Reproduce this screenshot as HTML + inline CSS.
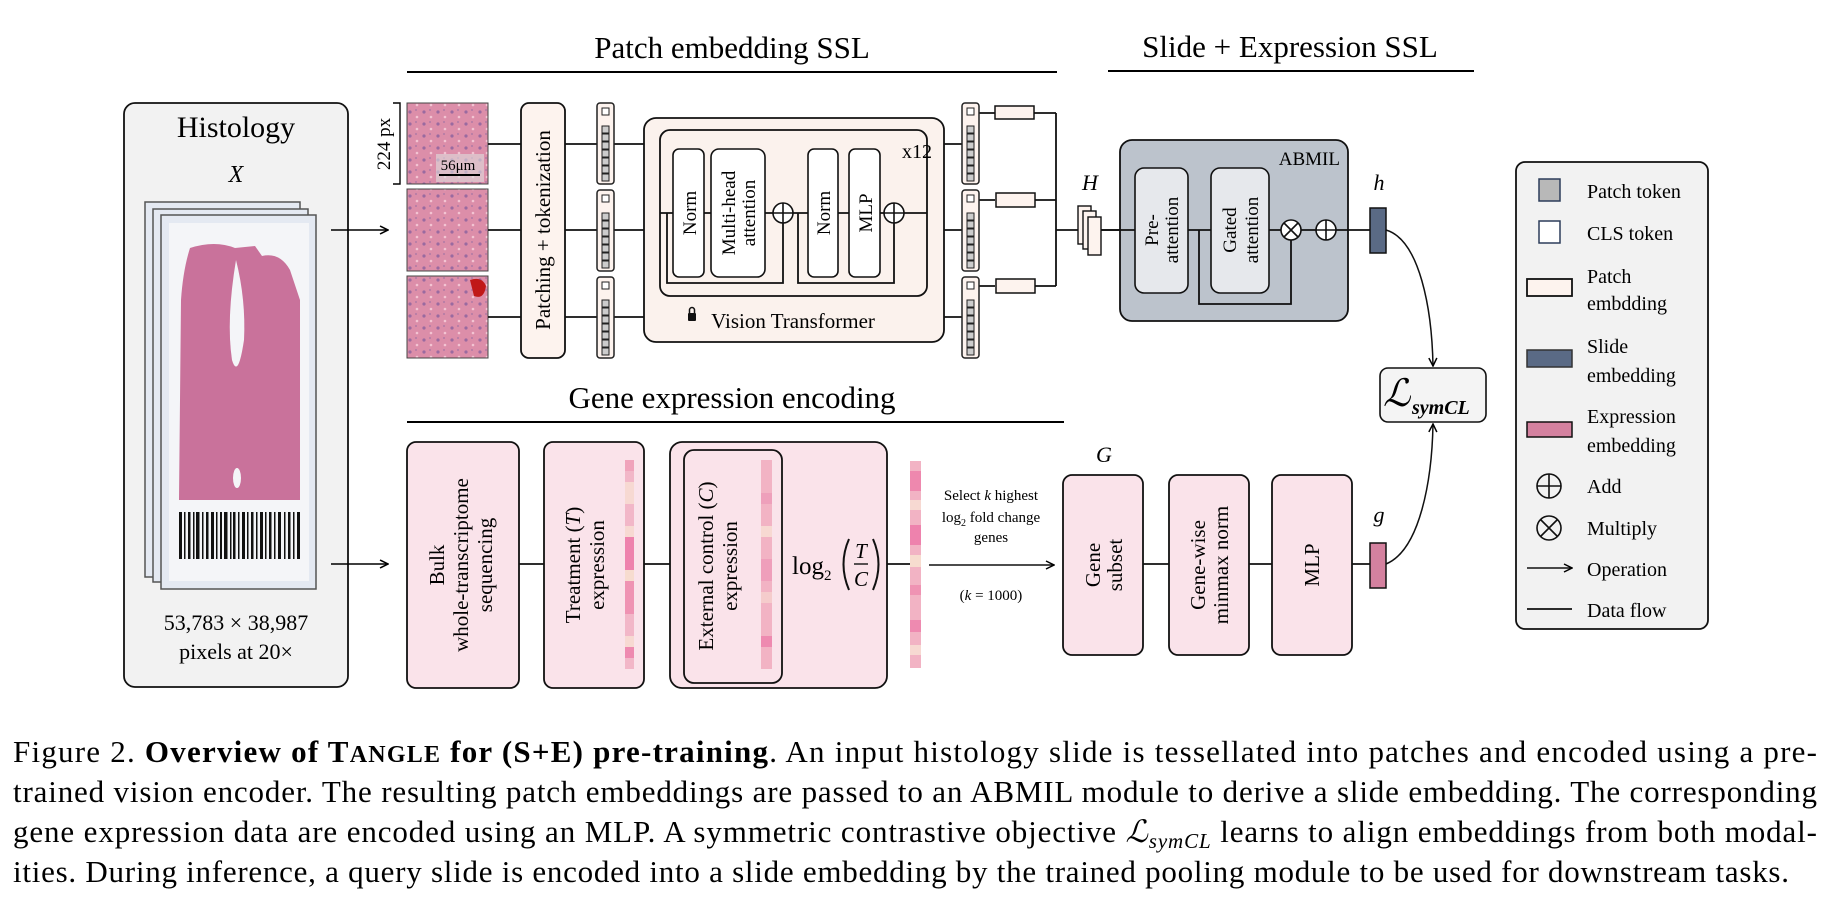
<!DOCTYPE html>
<html><head><meta charset="utf-8"><style>
html,body{margin:0;padding:0;background:#fff;}
svg{display:block;font-family:"Liberation Serif",serif;}
</style></head><body>
<svg width="1836" height="906" viewBox="0 0 1836 906" xmlns="http://www.w3.org/2000/svg">
<defs>
<marker id="ar" markerWidth="10" markerHeight="10" refX="9" refY="5" orient="auto" markerUnits="userSpaceOnUse"><path d="M1,1 L9,5 L1,9" fill="none" stroke="#000" stroke-width="1.5"/></marker>
<g id="tok">
<rect x="0" y="0" width="17" height="81" rx="3" fill="#fdf3ee" stroke="#222" stroke-width="1.5"/>
<rect x="5" y="5" width="7" height="7" fill="#fff" stroke="#222" stroke-width="1"/>
<rect x="5" y="23" width="7" height="7" fill="#ccc" stroke="#222" stroke-width="1"/>
<rect x="5" y="31" width="7" height="7" fill="#ccc" stroke="#222" stroke-width="1"/>
<rect x="5" y="39" width="7" height="7" fill="#ccc" stroke="#222" stroke-width="1"/>
<rect x="5" y="47" width="7" height="7" fill="#ccc" stroke="#222" stroke-width="1"/>
<rect x="5" y="55" width="7" height="7" fill="#ccc" stroke="#222" stroke-width="1"/>
<rect x="5" y="63" width="7" height="7" fill="#ccc" stroke="#222" stroke-width="1"/>
<rect x="5" y="71" width="7" height="7" fill="#ccc" stroke="#222" stroke-width="1"/>
</g>
<pattern id="cells" width="14" height="12" patternUnits="userSpaceOnUse">
<rect width="14" height="12" fill="#dc8ea9"/><circle cx="4" cy="4" r="1.6" fill="#9a6aa0"/><circle cx="11" cy="9" r="1.3" fill="#f3c4d2"/><circle cx="10" cy="2" r="1" fill="#b07aa6"/>
</pattern>
</defs>

<!-- titles -->
<text x="732" y="58" font-size="31" text-anchor="middle">Patch embedding SSL</text>
<line x1="407" y1="72" x2="1057" y2="72" stroke="#000" stroke-width="2"/>
<text x="1290" y="57" font-size="31" text-anchor="middle">Slide + Expression SSL</text>
<line x1="1108" y1="71" x2="1474" y2="71" stroke="#000" stroke-width="2"/>
<text x="732" y="408" font-size="31" text-anchor="middle">Gene expression encoding</text>
<line x1="407" y1="422" x2="1064" y2="422" stroke="#000" stroke-width="2"/>

<!-- histology -->
<rect x="124" y="103" width="224" height="584" rx="11" fill="#f2f2f2" stroke="#111" stroke-width="1.8"/>
<text x="236" y="137" font-size="30" text-anchor="middle">Histology</text>
<text x="236" y="182" font-size="24" font-style="italic" text-anchor="middle">X</text>
<rect x="145" y="202" width="155" height="375" fill="#e4e9f2" stroke="#555" stroke-width="1.5"/>
<rect x="153" y="209" width="155" height="373" fill="#e4e9f2" stroke="#555" stroke-width="1.5"/>
<rect x="161" y="215" width="155" height="374" fill="#e4e9f2" stroke="#555" stroke-width="1.5"/>
<rect x="169" y="223" width="140" height="358" fill="#f4f5f8"/>
<path d="M190,248 Q215,240 235,248 L255,246 L262,256 Q280,252 290,270 L300,300 L300,500 L179,500 L181,300 Q183,270 190,248 Z" fill="#c9729b"/>
<path d="M236,260 Q246,300 244,340 Q238,380 232,360 Q226,320 236,260 Z" fill="#f4f5f8"/>
<ellipse cx="237" cy="478" rx="4" ry="10" fill="#f4f5f8"/>
<g fill="#111">
<rect x="179" y="512" width="3" height="47"/><rect x="184" y="512" width="1.5" height="47"/><rect x="188" y="512" width="2.5" height="47"/><rect x="193" y="512" width="1.5" height="47"/><rect x="196" y="512" width="3.5" height="47"/><rect x="202" y="512" width="1.5" height="47"/><rect x="206" y="512" width="2.5" height="47"/><rect x="211" y="512" width="3" height="47"/><rect x="216" y="512" width="1.5" height="47"/><rect x="220" y="512" width="2" height="47"/><rect x="224" y="512" width="3.5" height="47"/><rect x="230" y="512" width="1.5" height="47"/><rect x="233" y="512" width="2.5" height="47"/><rect x="238" y="512" width="1.5" height="47"/><rect x="242" y="512" width="3" height="47"/><rect x="247" y="512" width="1.5" height="47"/><rect x="251" y="512" width="2.5" height="47"/><rect x="256" y="512" width="1.5" height="47"/><rect x="260" y="512" width="3" height="47"/><rect x="265" y="512" width="1.5" height="47"/><rect x="269" y="512" width="2.5" height="47"/><rect x="274" y="512" width="1.5" height="47"/><rect x="278" y="512" width="3" height="47"/><rect x="284" y="512" width="1.5" height="47"/><rect x="288" y="512" width="2.5" height="47"/><rect x="293" y="512" width="1.5" height="47"/><rect x="297" y="512" width="3" height="47"/>
</g>
<text x="236" y="630" font-size="22" text-anchor="middle">53,783 × 38,987</text>
<text x="236" y="659" font-size="22" text-anchor="middle">pixels at 20×</text>
<line x1="331" y1="230" x2="388" y2="230" stroke="#000" stroke-width="1.6" marker-end="url(#ar)"/>
<line x1="331" y1="564" x2="388" y2="564" stroke="#000" stroke-width="1.6" marker-end="url(#ar)"/>

<!-- patches -->
<rect x="407" y="103" width="81" height="81" fill="url(#cells)" stroke="#444"/>
<rect x="407" y="189" width="81" height="82" fill="url(#cells)" stroke="#444"/>
<rect x="407" y="276" width="81" height="82" fill="url(#cells)" stroke="#444"/>
<path d="M470,280 Q482,276 486,286 Q484,300 474,296 Z" fill="#c01818"/>
<rect x="436" y="154" width="48" height="28" fill="#ddd" opacity="0.6"/>
<text x="458" y="170" font-size="15" text-anchor="middle">56μm</text>
<line x1="439" y1="175" x2="480" y2="175" stroke="#000" stroke-width="2"/>
<path d="M393,103 H400 V184 H393" fill="none" stroke="#000" stroke-width="1.4"/>
<text transform="translate(390,144) rotate(-90)" font-size="19" text-anchor="middle">224 px</text>

<g stroke="#111" stroke-width="1.8">
<line x1="488" y1="144" x2="521" y2="144"/><line x1="488" y1="230" x2="521" y2="230"/><line x1="488" y1="317" x2="521" y2="317"/>
<line x1="565" y1="144" x2="597" y2="144"/><line x1="565" y1="230" x2="597" y2="230"/><line x1="565" y1="317" x2="597" y2="317"/>
<line x1="614" y1="144" x2="644" y2="144"/><line x1="614" y1="230" x2="644" y2="230"/><line x1="614" y1="317" x2="644" y2="317"/>
</g>
<rect x="521" y="103" width="44" height="255" rx="8" fill="#fdf3ee" stroke="#111" stroke-width="1.8"/>
<text transform="translate(550,230) rotate(-90)" font-size="21" text-anchor="middle">Patching + tokenization</text>
<use href="#tok" x="597" y="103"/><use href="#tok" x="597" y="190"/><use href="#tok" x="597" y="277"/>

<!-- ViT -->
<rect x="644" y="118" width="300" height="224" rx="12" fill="#fbf2ed" stroke="#111" stroke-width="1.8"/>
<rect x="660" y="130" width="267" height="166" rx="10" fill="#fbf2ed" stroke="#111" stroke-width="1.8"/>
<g stroke="#111" stroke-width="1.8" fill="none">
<line x1="660" y1="213" x2="927" y2="213"/>
<path d="M667,213 V283 H783 V223"/>
<path d="M798,213 V283 H894 V223"/>
</g>
<rect x="673" y="149" width="31" height="128" rx="6" fill="#fff" stroke="#111" stroke-width="1.6"/>
<rect x="711" y="149" width="54" height="128" rx="8" fill="#fff" stroke="#111" stroke-width="1.6"/>
<rect x="808" y="149" width="30" height="128" rx="6" fill="#fff" stroke="#111" stroke-width="1.6"/>
<rect x="849" y="149" width="31" height="128" rx="6" fill="#fff" stroke="#111" stroke-width="1.6"/>
<text transform="translate(696,213) rotate(-90)" font-size="19" text-anchor="middle">Norm</text>
<text transform="translate(735,213) rotate(-90)" font-size="19" text-anchor="middle">Multi-head</text>
<text transform="translate(755,213) rotate(-90)" font-size="19" text-anchor="middle">attention</text>
<text transform="translate(830,213) rotate(-90)" font-size="19" text-anchor="middle">Norm</text>
<text transform="translate(872,213) rotate(-90)" font-size="19" text-anchor="middle">MLP</text>
<g fill="#fff" stroke="#111" stroke-width="1.6">
<circle cx="783" cy="213" r="10"/><circle cx="894" cy="213" r="10"/>
</g>
<path d="M773,213 H793 M783,203 V223 M884,213 H904 M894,203 V223" stroke="#111" stroke-width="1.6"/>
<text x="917" y="158" font-size="20" text-anchor="middle">x12</text>
<rect x="688" y="313" width="8" height="8" rx="1" fill="#111"/><path d="M689.5,313 V310 a2.5,2.5 0 0 1 5,0 V313" fill="none" stroke="#111" stroke-width="1.5"/>
<text x="793" y="328" font-size="21" text-anchor="middle">Vision Transformer</text>

<g stroke="#111" stroke-width="1.8">
<line x1="944" y1="144" x2="964" y2="144"/><line x1="944" y1="230" x2="964" y2="230"/><line x1="944" y1="317" x2="964" y2="317"/>
<line x1="975" y1="113" x2="995" y2="113"/><line x1="975" y1="200" x2="995" y2="200"/><line x1="975" y1="286" x2="995" y2="286"/>
<line x1="1034" y1="113" x2="1056" y2="113"/><line x1="1034" y1="200" x2="1056" y2="200"/><line x1="1034" y1="286" x2="1056" y2="286"/>
<line x1="1056" y1="113" x2="1056" y2="286"/>
<line x1="1056" y1="230" x2="1120" y2="230"/>
</g>
<use href="#tok" x="962" y="103"/><use href="#tok" x="962" y="190"/><use href="#tok" x="962" y="277"/>
<rect x="995" y="106" width="39" height="13" fill="#fdf3ee" stroke="#111" stroke-width="1.5"/>
<rect x="996" y="193" width="39" height="14" fill="#fdf3ee" stroke="#111" stroke-width="1.5"/>
<rect x="996" y="279" width="39" height="14" fill="#fdf3ee" stroke="#111" stroke-width="1.5"/>
<text x="1090" y="190" font-size="22" font-style="italic" text-anchor="middle">H</text>
<rect x="1078" y="206" width="13" height="38" fill="#fdf3ee" stroke="#111" stroke-width="1.4"/>
<rect x="1083" y="211" width="13" height="38" fill="#fdf3ee" stroke="#111" stroke-width="1.4"/>
<rect x="1088" y="217" width="13" height="38" fill="#fdf3ee" stroke="#111" stroke-width="1.4"/>

<!-- ABMIL -->
<rect x="1120" y="140" width="228" height="181" rx="12" fill="#bcc3cc" stroke="#111" stroke-width="1.8"/>
<text x="1340" y="165" font-size="19" text-anchor="end">ABMIL</text>
<g stroke="#111" stroke-width="1.8" fill="none">
<line x1="1101" y1="230" x2="1370" y2="230"/>
<path d="M1199,230 V304 H1291 V240"/>
</g>
<rect x="1135" y="168" width="53" height="125" rx="9" fill="#e6e8ec" stroke="#111" stroke-width="1.6"/>
<rect x="1211" y="168" width="58" height="125" rx="9" fill="#e6e8ec" stroke="#111" stroke-width="1.6"/>
<text transform="translate(1158,230) rotate(-90)" font-size="19" text-anchor="middle">Pre-</text>
<text transform="translate(1178,230) rotate(-90)" font-size="19" text-anchor="middle">attention</text>
<text transform="translate(1236,230) rotate(-90)" font-size="19" text-anchor="middle">Gated</text>
<text transform="translate(1258,230) rotate(-90)" font-size="19" text-anchor="middle">attention</text>
<circle cx="1291" cy="230" r="10" fill="#fff" stroke="#111" stroke-width="1.6"/>
<path d="M1284,223 L1298,237 M1298,223 L1284,237" stroke="#111" stroke-width="1.6"/>
<circle cx="1326" cy="230" r="10" fill="#fff" stroke="#111" stroke-width="1.6"/>
<path d="M1316,230 H1336 M1326,220 V240" stroke="#111" stroke-width="1.6"/>
<text x="1379" y="190" font-size="22" font-style="italic" text-anchor="middle">h</text>
<rect x="1370" y="208" width="16" height="45" fill="#5a6a85" stroke="#111" stroke-width="1.5"/>
<path d="M1386,230 C1420,240 1432,310 1433,366" fill="none" stroke="#111" stroke-width="1.5" marker-end="url(#ar)"/>

<rect x="1380" y="368" width="106" height="54" rx="8" fill="#f4f4f4" stroke="#111" stroke-width="1.6"/>
<text x="1383" y="406" font-size="38" font-style="italic">ℒ</text>
<text x="1412" y="414" font-size="20" font-style="italic" font-weight="bold">symCL</text>

<!-- bottom pipeline -->
<g stroke="#111" stroke-width="1.8">
<line x1="519" y1="564" x2="544" y2="564"/><line x1="644" y1="564" x2="670" y2="564"/><line x1="887" y1="564" x2="910" y2="564"/>
<line x1="1143" y1="564" x2="1169" y2="564"/><line x1="1249" y1="564" x2="1272" y2="564"/><line x1="1352" y1="564" x2="1370" y2="564"/>
</g>
<rect x="407" y="442" width="112" height="246" rx="9" fill="#fae3ea" stroke="#111" stroke-width="1.8"/>
<text transform="translate(444,565) rotate(-90)" font-size="21" text-anchor="middle">Bulk</text>
<text transform="translate(468,565) rotate(-90)" font-size="21" text-anchor="middle">whole-transcriptome</text>
<text transform="translate(492,565) rotate(-90)" font-size="21" text-anchor="middle">sequencing</text>
<rect x="544" y="442" width="100" height="246" rx="9" fill="#fae3ea" stroke="#111" stroke-width="1.8"/>
<text transform="translate(580,565) rotate(-90)" font-size="21" text-anchor="middle">Treatment (<tspan font-style="italic">T</tspan>)</text>
<text transform="translate(604,565) rotate(-90)" font-size="21" text-anchor="middle">expression</text>
<g>
<rect x="625" y="460" width="9" height="209" fill="#f2b7c8"/>
<rect x="625" y="460" width="9" height="11" fill="#f0a3bb"/><rect x="625" y="482" width="9" height="22" fill="#f7d9d2"/><rect x="625" y="526" width="9" height="11" fill="#f7d9d2"/><rect x="625" y="537" width="9" height="33" fill="#ee82ad"/><rect x="625" y="570" width="9" height="11" fill="#f7dccf"/><rect x="625" y="581" width="9" height="33" fill="#ef93b3"/><rect x="625" y="636" width="9" height="11" fill="#f7d9d2"/><rect x="625" y="647" width="9" height="11" fill="#ee8ab0"/>
</g>
<rect x="670" y="442" width="217" height="246" rx="12" fill="#fae3ea" stroke="#111" stroke-width="1.8"/>
<rect x="684" y="450" width="98" height="233" rx="10" fill="#fae3ea" stroke="#111" stroke-width="1.8"/>
<text transform="translate(713,566) rotate(-90)" font-size="21" text-anchor="middle">External control (<tspan font-style="italic">C</tspan>)</text>
<text transform="translate(737,566) rotate(-90)" font-size="21" text-anchor="middle">expression</text>
<g>
<rect x="761" y="460" width="11" height="209" fill="#f2b3c4"/>
<rect x="761" y="493" width="11" height="11" fill="#eea0bb"/><rect x="761" y="526" width="11" height="11" fill="#f7d9d2"/><rect x="761" y="559" width="11" height="22" fill="#ef9fbb"/><rect x="761" y="592" width="11" height="11" fill="#f5cccc"/><rect x="761" y="636" width="11" height="11" fill="#ee8ab0"/>
</g>
<text x="792" y="574" font-size="25">log<tspan font-size="15" dy="6">2</tspan></text>
<path d="M849,539 Q838,564 849,590" fill="none" stroke="#111" stroke-width="2"/>
<path d="M873,539 Q884,564 873,590" fill="none" stroke="#111" stroke-width="2"/>
<text x="861" y="558" font-size="21" font-style="italic" text-anchor="middle">T</text>
<line x1="854" y1="564" x2="868" y2="564" stroke="#111" stroke-width="1.4"/>
<text x="861" y="586" font-size="21" font-style="italic" text-anchor="middle">C</text>
<g>
<rect x="910" y="461" width="11" height="207" fill="#f2b3c4"/>
<rect x="910" y="471" width="11" height="20" fill="#ee88ae"/><rect x="910" y="500" width="11" height="10" fill="#f7d9d2"/><rect x="910" y="525" width="11" height="20" fill="#ee82ad"/><rect x="910" y="555" width="11" height="12" fill="#f7dccf"/><rect x="910" y="585" width="11" height="10" fill="#ef93b3"/><rect x="910" y="620" width="11" height="12" fill="#ee8ab0"/><rect x="910" y="645" width="11" height="10" fill="#f7d9d2"/>
</g>
<text x="991" y="500" font-size="15" text-anchor="middle">Select <tspan font-style="italic">k</tspan> highest</text>
<text x="991" y="522" font-size="15" text-anchor="middle">log<tspan font-size="10" dy="4">2</tspan><tspan dy="-4"> fold change</tspan></text>
<text x="991" y="542" font-size="15" text-anchor="middle">genes</text>
<line x1="929" y1="565" x2="1054" y2="565" stroke="#111" stroke-width="1.6" marker-end="url(#ar)"/>
<text x="991" y="600" font-size="15" text-anchor="middle">(<tspan font-style="italic">k</tspan> = 1000)</text>
<text x="1104" y="462" font-size="22" font-style="italic" text-anchor="middle">G</text>
<rect x="1063" y="475" width="80" height="180" rx="9" fill="#fae3ea" stroke="#111" stroke-width="1.8"/>
<text transform="translate(1100,565) rotate(-90)" font-size="21" text-anchor="middle">Gene</text>
<text transform="translate(1122,565) rotate(-90)" font-size="21" text-anchor="middle">subset</text>
<rect x="1169" y="475" width="80" height="180" rx="9" fill="#fae3ea" stroke="#111" stroke-width="1.8"/>
<text transform="translate(1205,565) rotate(-90)" font-size="21" text-anchor="middle">Gene-wise</text>
<text transform="translate(1228,565) rotate(-90)" font-size="21" text-anchor="middle">minmax norm</text>
<rect x="1272" y="475" width="80" height="180" rx="9" fill="#fae3ea" stroke="#111" stroke-width="1.8"/>
<text transform="translate(1319,565) rotate(-90)" font-size="21" text-anchor="middle">MLP</text>
<text x="1379" y="522" font-size="22" font-style="italic" text-anchor="middle">g</text>
<rect x="1370" y="543" width="16" height="45" fill="#d4819f" stroke="#111" stroke-width="1.5"/>
<path d="M1386,564 C1420,550 1432,480 1433,424" fill="none" stroke="#111" stroke-width="1.5" marker-end="url(#ar)"/>

<!-- legend -->
<rect x="1516" y="162" width="192" height="467" rx="9" fill="#f2f2f2" stroke="#111" stroke-width="1.8"/>
<g font-size="20">
<rect x="1539" y="179" width="21" height="22" fill="#b8b8b8" stroke="#2c3c5a" stroke-width="1.5"/>
<text x="1587" y="198">Patch token</text>
<rect x="1539" y="221" width="21" height="22" fill="#fff" stroke="#2c3c5a" stroke-width="1.5"/>
<text x="1587" y="240">CLS token</text>
<rect x="1527" y="279" width="45" height="17" fill="#fdf3ee" stroke="#111" stroke-width="1.8"/>
<text x="1587" y="283">Patch</text><text x="1587" y="310">embdding</text>
<rect x="1527" y="350" width="45" height="17" fill="#5a6a85" stroke="#333" stroke-width="1.5"/>
<text x="1587" y="353">Slide</text><text x="1587" y="382">embedding</text>
<rect x="1527" y="422" width="45" height="15" fill="#d4819f" stroke="#111" stroke-width="1.5"/>
<text x="1587" y="423">Expression</text><text x="1587" y="452">embedding</text>
<circle cx="1549" cy="486" r="12" fill="none" stroke="#111" stroke-width="1.6"/><path d="M1537,486 H1561 M1549,474 V498" stroke="#111" stroke-width="1.6"/>
<text x="1587" y="493">Add</text>
<circle cx="1549" cy="528" r="12" fill="none" stroke="#111" stroke-width="1.6"/><path d="M1541,520 L1557,536 M1557,520 L1541,536" stroke="#111" stroke-width="1.6"/>
<text x="1587" y="535">Multiply</text>
<line x1="1527" y1="568" x2="1572" y2="568" stroke="#111" stroke-width="1.6" marker-end="url(#ar)"/>
<text x="1587" y="576">Operation</text>
<line x1="1527" y1="609" x2="1572" y2="609" stroke="#111" stroke-width="1.8"/>
<text x="1587" y="617">Data flow</text>
</g>

<!-- caption -->
<g font-size="31">
<text x="13" y="762" textLength="1804" lengthAdjust="spacing">Figure 2.  <tspan font-weight="bold">Overview of T<tspan font-size="24">ANGLE</tspan> for (S+E) pre-training</tspan>.  An input histology slide is tessellated into patches and encoded using a pre-</text>
<text x="13" y="802" textLength="1804" lengthAdjust="spacing">trained vision encoder. The resulting patch embeddings are passed to an ABMIL module to derive a slide embedding. The corresponding</text>
<text x="13" y="842" textLength="1804" lengthAdjust="spacing">gene expression data are encoded using an MLP. A symmetric contrastive objective <tspan font-style="italic">ℒ</tspan><tspan font-style="italic" font-size="21" dy="6">symCL</tspan><tspan dy="-6"> learns to align embeddings from both modal-</tspan></text>
<text x="13" y="882" textLength="1776" lengthAdjust="spacing">ities. During inference, a query slide is encoded into a slide embedding by the trained pooling module to be used for downstream tasks.</text>
</g>
</svg>
</body></html>
